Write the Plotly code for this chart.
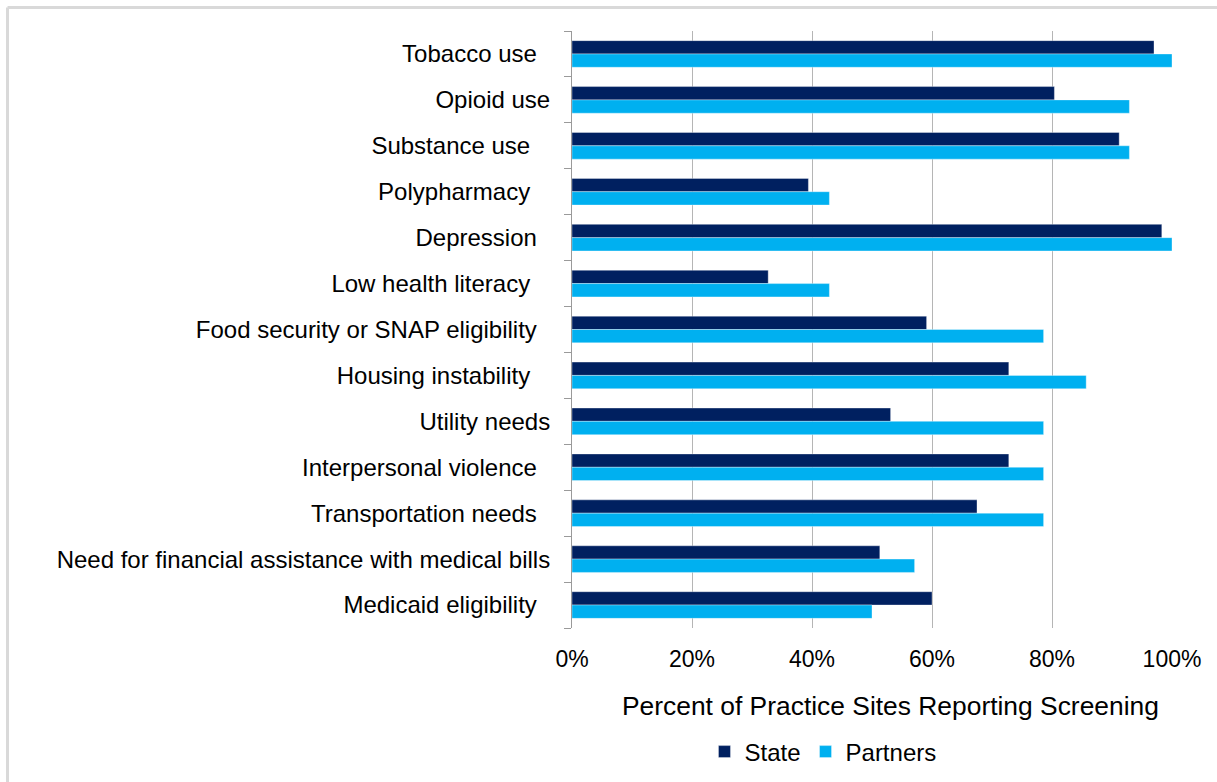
import plotly.graph_objects as go

categories = [
    "Tobacco use", "Opioid use", "Substance use", "Polypharmacy", "Depression",
    "Low health literacy", "Food security or SNAP eligibility", "Housing instability",
    "Utility needs", "Interpersonal violence", "Transportation needs",
    "Need for financial assistance with medical bills", "Medicaid eligibility",
]
# trailing spaces as they appear in the original labels
label_pad = [2, 0, 3, 3, 2, 3, 2, 3, 0, 2, 2, 0, 2]

state = [0.970, 0.804, 0.912, 0.394, 0.983, 0.327, 0.591, 0.728, 0.531, 0.728, 0.675, 0.513, 0.600]
partners = [1.000, 0.929, 0.929, 0.429, 1.000, 0.429, 0.786, 0.857, 0.786, 0.786, 0.786, 0.571, 0.500]

x_ticks = [0, 0.2, 0.4, 0.6, 0.8, 1.0]
x_title = "Percent of Practice Sites Reporting Screening"

DARK = "#002060"
LIGHT = "#00B0F0"
GRID = "#b5b5b5"
AXIS = "#9a9a9a"
FRAME = "#d9d9d9"
FONT = "Liberation Sans, Arial, sans-serif"

ticktext = [c + "\u00a0" * p for c, p in zip(categories, label_pad)]

fig = go.Figure()
fig.add_trace(go.Bar(
    y=categories, x=state, name="State", orientation="h",
    marker=dict(color=DARK, line=dict(color="rgba(255,255,255,0.35)", width=1)),
))
fig.add_trace(go.Bar(
    y=categories, x=partners, name="Partners", orientation="h",
    marker=dict(color=LIGHT, line=dict(color="rgba(255,255,255,0.35)", width=1)),
))

n = len(categories)
boundaries = [i - 0.5 for i in range(n + 1)]
centers = list(range(n))

fig.update_layout(
    width=1217, height=782,
    margin=dict(l=572, r=45, t=31, b=154, autoexpand=False),
    paper_bgcolor="white", plot_bgcolor="white",
    font=dict(family=FONT, color="#000000", size=22),
    barmode="group", bargap=0.42, bargroupgap=0,
    showlegend=True,
    legend=dict(
        orientation="h", x=0.4183, xanchor="center", y=-0.2077, yanchor="middle",
        font=dict(size=24, family=FONT), itemwidth=30, traceorder="normal",
        bgcolor="rgba(0,0,0,0)",
    ),
    xaxis=dict(
        range=[0, 1], tickvals=x_ticks, tickformat=".0%", automargin=False,
        showgrid=True, gridcolor=GRID, gridwidth=1, zeroline=False,
        showline=False, ticks="", ticklabelstandoff=15,
        tickfont=dict(size=23, family=FONT),
    ),
    yaxis=dict(
        type="category", categoryorder="array", categoryarray=categories,
        autorange="reversed", tickmode="array", tickvals=categories, ticktext=ticktext,
        tickson="boundaries", ticks="outside", ticklen=7, tickcolor=AXIS, tickwidth=1,
        showline=True, linecolor=AXIS, linewidth=1, showgrid=False, automargin=False,
        ticklabelstandoff=16, tickfont=dict(size=24, family=FONT),
    ),
    yaxis2=dict(
        overlaying="y", anchor="x", side="left", range=[n - 0.5, -0.5], automargin=False,
        tickmode="array", tickvals=boundaries, ticks="inside", ticklen=8,
        tickcolor=AXIS, showticklabels=False, showgrid=False, zeroline=False, showline=False,
    ),
    yaxis3=dict(
        overlaying="y", anchor="x", side="left", range=[n - 0.5, -0.5], automargin=False,
        tickmode="array", tickvals=centers, ticks="outside", ticklen=5,
        tickcolor=AXIS, showticklabels=False, showgrid=False, zeroline=False, showline=False,
    ),
    yaxis4=dict(
        overlaying="y", anchor="x", side="left", range=[n - 0.5, -0.5], automargin=False,
        tickmode="array", tickvals=centers, ticks="inside", ticklen=5,
        tickcolor=AXIS, showticklabels=False, showgrid=False, zeroline=False, showline=False,
    ),
    annotations=[dict(
        text=x_title, xref="paper", yref="paper", x=0.53, y=-0.1307,
        xanchor="center", yanchor="middle", showarrow=False,
        font=dict(size=26.4, family=FONT, color="#000000"),
    )],
    shapes=[
        dict(type="line", xref="paper", yref="paper",
             x0=-0.9408, x1=1.1, y0=1.0394, y1=1.0394,
             line=dict(color=FRAME, width=3), layer="above"),
        dict(type="line", xref="paper", yref="paper",
             x0=-0.9408, x1=-0.9408, y0=-0.3, y1=1.0394,
             line=dict(color=FRAME, width=3), layer="above"),
    ],
)

fig.write_html(
    "out.html",
    config={"displayModeBar": False},
    post_script="document.body.style.margin='0';",
)
